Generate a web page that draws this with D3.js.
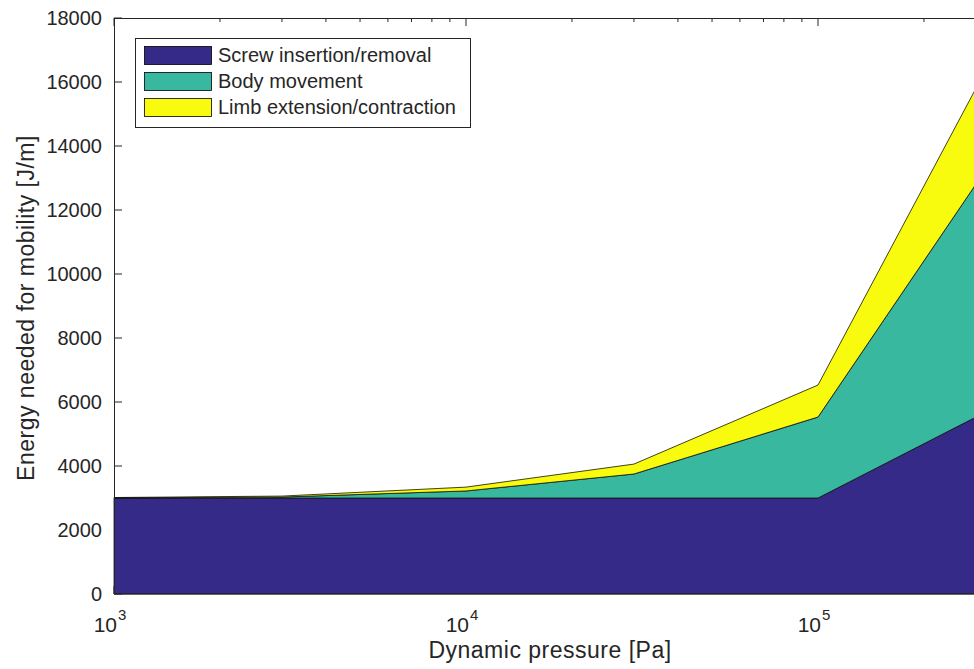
<!DOCTYPE html>
<html>
<head>
<meta charset="utf-8">
<script src="https://cdn.jsdelivr.net/npm/d3@7"></script>
<style>
  html, body { margin: 0; padding: 0; background: #fff; }
  svg { display: block; }
  text { font-family: "Liberation Sans", Arial, Helvetica, sans-serif; fill: #262626; }
</style>
</head>
<body>
<svg id="chart" width="974" height="669"></svg>
<script>
// ---- Data ----
const pressure = [1e3, 3e3, 1e4, 3e4, 1e5, 3e5];           // Dynamic pressure [Pa]
const screw    = [3000, 3000, 3000, 3000, 3000, 5690];     // Screw insertion/removal
const body     = [5, 30, 220, 750, 2530, 7580];            // Body movement
const limb     = [10, 30, 120, 310, 1000, 3120];           // Limb extension/contraction
const seriesNames = ["Screw insertion/removal", "Body movement", "Limb extension/contraction"];
const seriesColors = ["#352a87", "#38b89e", "#f9fb0e"];
const yTicks = [0, 2000, 4000, 6000, 8000, 10000, 12000, 14000, 16000, 18000];
const xTickExps = [3, 4, 5, 6];

(function () {
const W = 974;
const svg = d3.select("#chart");
const pLeft = 114, pTop = 18, pBottom = 594;
const decade = 352;

const x = d3.scaleLog().domain([1e3, 1e6]).range([pLeft, pLeft + 3 * decade]);
const y = d3.scaleLinear().domain([0, 18000]).range([pBottom, pTop]);

const table = pressure.map((p, i) => ({ p, s: screw[i], b: body[i], l: limb[i] }));
const stack = d3.stack().keys(["s", "b", "l"]);
const layers = stack(table);

const g = svg.append("g");

// ticks (drawn beneath the fills, like MATLAB layer=bottom)
const majorX = xTickExps.map(e => Math.pow(10, e));
const minorX = [];
for (let e = 3; e < 6; e++) for (let k = 2; k <= 9; k++) minorX.push(k * Math.pow(10, e));

const tickG = g.append("g").attr("stroke", "#262626").attr("stroke-width", 1);
yTicks.forEach(t => {
  tickG.append("line").attr("x1", pLeft).attr("x2", pLeft + 8).attr("y1", y(t)).attr("y2", y(t));
});
majorX.filter(v => x(v) < W).forEach(v => {
  tickG.append("line").attr("x1", x(v)).attr("x2", x(v)).attr("y1", pTop).attr("y2", pTop + 8);
  tickG.append("line").attr("x1", x(v)).attr("x2", x(v)).attr("y1", pBottom).attr("y2", pBottom - 8);
});
minorX.filter(v => x(v) < W).forEach(v => {
  tickG.append("line").attr("x1", x(v)).attr("x2", x(v)).attr("y1", pTop).attr("y2", pTop + 4);
  tickG.append("line").attr("x1", x(v)).attr("x2", x(v)).attr("y1", pBottom).attr("y2", pBottom - 4);
});

// areas
const area = d3.area()
  .x(d => x(d.data.p))
  .y0(d => y(d[0]))
  .y1(d => y(d[1]));

g.append("g").selectAll("path").data(layers).join("path")
  .attr("d", area)
  .attr("fill", (d, i) => seriesColors[i])
  .attr("stroke", "#111")
  .attr("stroke-width", 0.8)
  .attr("stroke-linejoin", "round");

// axis box lines
g.append("line").attr("x1", pLeft).attr("x2", W).attr("y1", pTop + 0.5).attr("y2", pTop + 0.5)
  .attr("stroke", "#262626").attr("stroke-width", 1);
g.append("line").attr("x1", pLeft + 0.5).attr("x2", pLeft + 0.5).attr("y1", pTop).attr("y2", pBottom)
  .attr("stroke", "#262626").attr("stroke-width", 1);
g.append("line").attr("x1", pLeft).attr("x2", W).attr("y1", pBottom).attr("y2", pBottom)
  .attr("stroke", "#262626").attr("stroke-width", 1);

// y tick labels
g.append("g").selectAll("text").data(yTicks).join("text")
  .attr("x", pLeft - 12)
  .attr("y", d => y(d))
  .attr("dy", "0.36em")
  .attr("text-anchor", "end")
  .attr("font-size", 20)
  .text(d => d);

// x tick labels (10^n), only those inside the visible window
const xl = g.append("g").selectAll("text").data(xTickExps.filter(e => x(Math.pow(10, e)) < W - 20)).join("text")
  .attr("x", e => x(Math.pow(10, e)) - 4)
  .attr("y", 632)
  .attr("text-anchor", "middle")
  .attr("font-size", 21);
xl.append("tspan").text("10");
xl.append("tspan").attr("font-size", 15).attr("dy", -12).attr("dx", 1).text(e => e);

// axis labels
g.append("text").attr("x", 550).attr("y", 658).attr("text-anchor", "middle")
  .attr("font-size", 23).attr("letter-spacing", 0.5).text("Dynamic pressure [Pa]");
g.append("text").attr("transform", "translate(34,308) rotate(-90)")
  .attr("text-anchor", "middle").attr("font-size", 23).attr("letter-spacing", 0.5)
  .text("Energy needed for mobility [J/m]");

// legend
const lg = g.append("g");
lg.append("rect").attr("x", 135.5).attr("y", 38.5).attr("width", 335).attr("height", 89)
  .attr("fill", "#fff").attr("stroke", "#262626").attr("stroke-width", 1);
seriesNames.forEach((name, i) => {
  const yy = 46 + i * 26;
  lg.append("rect").attr("x", 144.5).attr("y", yy + 0.5).attr("width", 67).attr("height", 18)
    .attr("fill", seriesColors[i]).attr("stroke", "#000").attr("stroke-width", 0.8);
  lg.append("text").attr("x", 218).attr("y", yy + 9).attr("dy", "0.36em")
    .attr("font-size", 20).text(name);
});
})();
</script>
</body>
</html>
